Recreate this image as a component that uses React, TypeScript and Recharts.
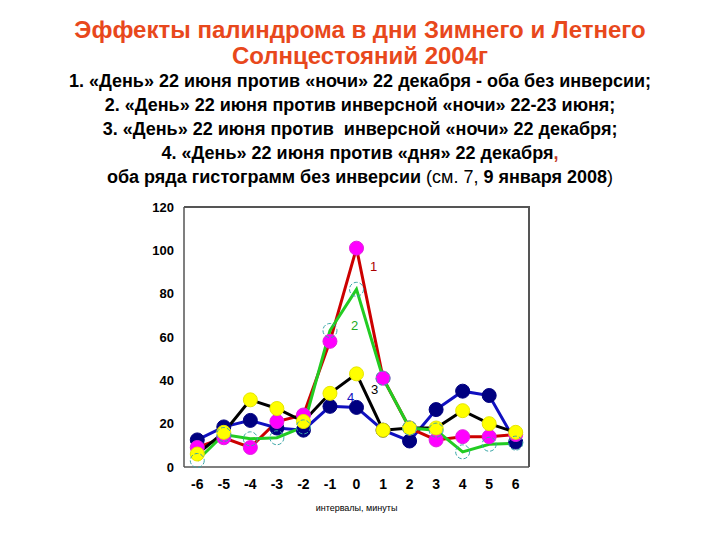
import { LineChart, Line, XAxis, YAxis, LabelList } from "recharts"

const intervals = [-6, -5, -4, -3, -2, -1, 0, 1, 2, 3, 4, 5, 6]
const yTicks = [0, 20, 40, 60, 80, 100, 120]

// 1. день 22 июня / ночь 22 декабря
const series1 = [9, 13.5, 9, 21, 24, 58, 101, 41, 18, 12.5, 14, 14, 15]
// 2. день 22 июня / инверсная ночь 22-23 июня
const series2 = [3, 15, 13, 13.5, 18.5, 63, 82, 41, 18, 17, 7, 10.5, 11]
// 3. день 22 июня / инверсная ночь 22 декабря
const series3 = [6, 16, 31, 27, 21, 34, 43, 17, 18, 18, 26, 20, 16]
// 4. день 22 июня / день 22 декабря
const series4 = [12.5, 18.5, 21.5, 18, 17, 28, 27.5, 17, 12, 26.5, 35, 33, 11.5]

const chartData = intervals.map((x, i) => ({
  x,
  s1: series1[i],
  s2: series2[i],
  s3: series3[i],
  s4: series4[i],
}))

const PEAK = intervals.indexOf(0)

// номер кривой рядом с пиком
function tag(text: string, color: string, dx: number, dy: number) {
  return (props: any) => {
    if (props.index !== PEAK) return null
    return (
      <text
        x={Number(props.x) + dx}
        y={Number(props.y) + dy}
        fill={color}
        fontSize={13}
        fontFamily="Liberation Sans, Arial, sans-serif"
        textAnchor="middle"
        dominantBaseline="central"
      >
        {text}
      </text>
    )
  }
}

const font = "Liberation Sans, Arial, sans-serif"
const axisStroke = { stroke: "#555", strokeWidth: 1.5 }

// plot area: left 184, top 207, 345 x 260
const margin = { top: 207, right: 191, bottom: 28, left: 144 }

export default function App() {
  return (
    <div
      style={{
        position: "absolute",
        left: 0,
        top: 0,
        width: 720,
        height: 540,
        background: "#fff",
        fontFamily: font,
      }}
    >
      <div style={{ position: "absolute", left: 0, top: 17, width: 720, textAlign: "center" }}>
        <div style={{ color: "#e8481c", fontWeight: 700, fontSize: 24, lineHeight: "26px" }}>
          Эффекты палиндрома в дни Зимнего и Летнего
          <br />
          Солнцестояний 2004г
        </div>
        <div style={{ color: "#000", fontWeight: 700, fontSize: 18, lineHeight: "24px" }}>
          1. «День» 22 июня против «ночи» 22 декабря - оба без инверсии;
          <br />
          2. «День» 22 июня против инверсной «ночи» 22-23 июня;
          <br />
          3. «День» 22 июня против&nbsp; инверсной «ночи» 22 декабря;
          <br />
          4. «День» 22 июня против «дня» 22 декабря<span style={{ color: "#c0392b" }}>,</span>
          <br />
          оба ряда гистограмм без инверсии <span style={{ fontWeight: 400 }}>(см. 7, </span>9 января
          2008<span style={{ fontWeight: 400 }}>)</span>
        </div>
      </div>

      <div style={{ position: "absolute", left: 0, top: 0 }}>
        <LineChart width={720} height={540} data={chartData} margin={margin}>
          <XAxis
            dataKey="x"
            scale="band"
            height={45}
            axisLine={axisStroke}
            tickLine={false}
            tickSize={9}
            tickMargin={3}
            interval={0}
            tick={{ fontSize: 14, fontWeight: 700, fill: "#000", fontFamily: font }}
            label={{
              value: "интервалы, минуты",
              position: "insideBottom",
              offset: 1,
              style: { fontSize: 9, fill: "#000", fontFamily: font },
            }}
          />
          <YAxis
            domain={[0, 120]}
            ticks={yTicks}
            width={40}
            axisLine={axisStroke}
            tickLine={false}
            tickSize={8}
            tickMargin={2}
            tick={{ fontSize: 13, fontWeight: 700, fill: "#000", fontFamily: font }}
          />

          <Line
            dataKey="s4"
            stroke="#1010c0"
            strokeWidth={3}
            isAnimationActive={false}
            dot={{ r: 7, fill: "#000080", stroke: "#000080", strokeWidth: 1 }}
          >
            <LabelList dataKey="s4" content={tag("4", "#1010c0", -6, -10)} />
          </Line>
          <Line
            dataKey="s1"
            stroke="#cc0000"
            strokeWidth={3}
            isAnimationActive={false}
            dot={{ r: 7, fill: "#ff00ff", stroke: "#e020e0", strokeWidth: 1 }}
          >
            <LabelList dataKey="s1" content={tag("1", "#aa0000", 17, 18)} />
          </Line>
          <Line
            dataKey="s3"
            stroke="#000"
            strokeWidth={3}
            isAnimationActive={false}
            dot={{ r: 7, fill: "#ffff00", stroke: "#e6e600", strokeWidth: 1 }}
          >
            <LabelList dataKey="s3" content={tag("3", "#000", 18, 16)} />
          </Line>
          <Line
            dataKey="s2"
            stroke="#22cc22"
            strokeWidth={3}
            isAnimationActive={false}
            dot={{ r: 7, fill: "none", stroke: "#3aa6a6", strokeWidth: 1, strokeDasharray: "4 2" }}
          >
            <LabelList dataKey="s2" content={tag("2", "#22aa22", -2, 36)} />
          </Line>
        </LineChart>
      </div>

      {/* рамка области построения: верх и правый край */}
      <div
        style={{
          position: "absolute",
          left: 184,
          top: 206,
          width: 346,
          height: 261,
          boxSizing: "border-box",
          borderTop: "2px solid #555",
          borderRight: "2px solid #555",
          pointerEvents: "none",
        }}
      />
    </div>
  )
}
